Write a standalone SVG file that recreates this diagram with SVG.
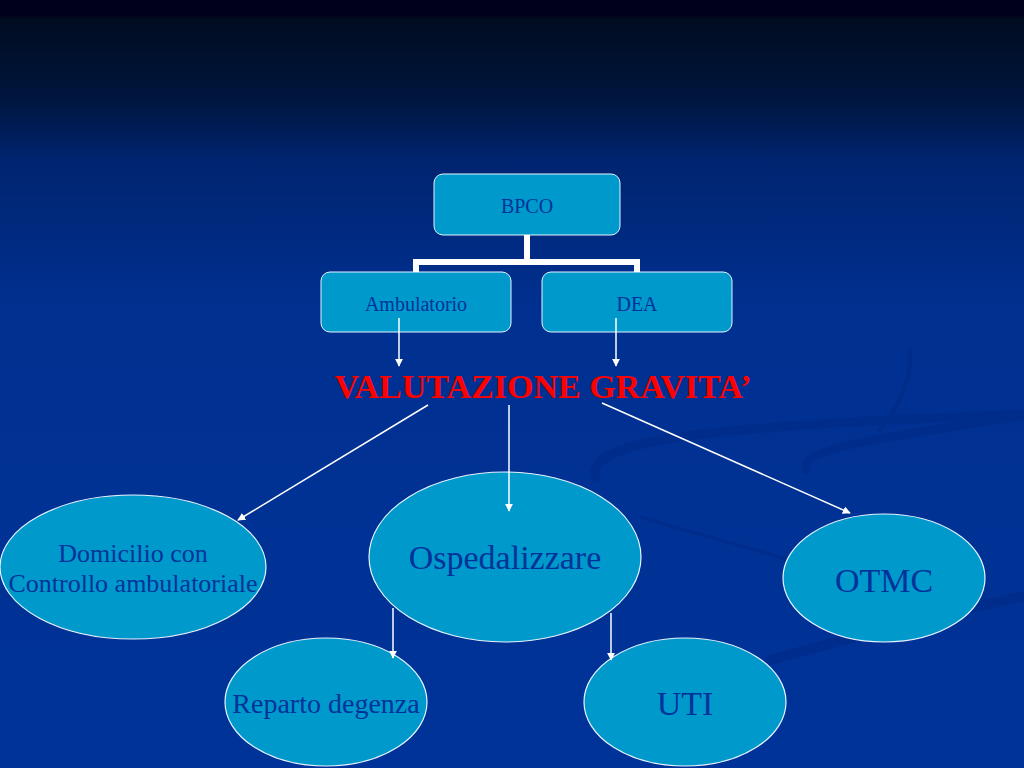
<svg xmlns="http://www.w3.org/2000/svg" width="1024" height="768" viewBox="0 0 1024 768">
<defs>
<linearGradient id="bg" x1="0" y1="0" x2="0" y2="1">
<stop offset="0" stop-color="#00001a"/>
<stop offset="0.02" stop-color="#00001a"/>
<stop offset="0.025" stop-color="#000c20"/>
<stop offset="0.13" stop-color="#00163f"/>
<stop offset="0.21" stop-color="#002470"/>
<stop offset="0.4" stop-color="#003090"/>
<stop offset="1" stop-color="#003399"/>
</linearGradient>
<marker id="ah" viewBox="0 0 10 10" refX="9" refY="5" markerWidth="8" markerHeight="8" markerUnits="userSpaceOnUse" orient="auto">
<path d="M0,0 L10,5 L0,10 z" fill="#ffffff"/>
</marker>
<style>
.box{fill:#0099cc;stroke:#e6f4ff;stroke-width:1}
.ell{fill:#0099cc;stroke:#e6f4ff;stroke-width:1.2}
.t{font-family:"Liberation Serif","Times New Roman",serif;fill:#003399;text-anchor:middle}
.arr{stroke:#ffffff;stroke-width:1.5;fill:none;marker-end:url(#ah)}
.sw{fill:none;stroke:#002a85;stroke-linecap:round}
</style>
</defs>
<rect x="0" y="0" width="1024" height="768" fill="url(#bg)"/>
<g id="swoosh" opacity="0.55">
<path class="sw" stroke-width="9" d="M596,478 C585,455 640,440 720,432 C820,422 930,418 1024,414"/>
<path class="sw" stroke-width="8" d="M806,470 C800,450 860,440 1024,416"/>
<path class="sw" stroke-width="10" d="M770,660 C860,635 950,612 1024,596"/>
<path class="sw" stroke-width="3" d="M640,517 C700,535 760,550 787,560"/>
<path class="sw" stroke-width="4" d="M880,430 C905,400 912,370 910,350"/>
</g>
<g id="bpco">
<rect class="box" x="434" y="174" width="186" height="61" rx="9"/>
<text class="t" x="527" y="213" font-size="20">BPCO</text>
</g>
<g id="ambulatorio">
<rect class="box" x="321" y="272" width="190" height="60" rx="9"/>
<text class="t" x="416" y="311" font-size="20">Ambulatorio</text>
</g>
<g id="dea">
<rect class="box" x="542" y="272" width="190" height="60" rx="9"/>
<text class="t" x="637" y="311" font-size="20">DEA</text>
</g>
<g id="valutazione">
<text x="543" y="398" font-family="'Liberation Serif','Times New Roman',serif" font-size="34" font-weight="bold" fill="#ff0000" text-anchor="middle">VALUTAZIONE GRAVITA’</text>
</g>
<g id="domicilio">
<ellipse class="ell" cx="133" cy="567" rx="133" ry="72"/>
<text class="t" x="133" y="562" font-size="26">Domicilio con</text>
<text class="t" x="133" y="592" font-size="26">Controllo ambulatoriale</text>
</g>
<g id="ospedalizzare">
<ellipse class="ell" cx="505" cy="557" rx="136" ry="85"/>
<text class="t" x="505" y="569" font-size="34">Ospedalizzare</text>
</g>
<g id="otmc">
<ellipse class="ell" cx="884" cy="578" rx="101" ry="64"/>
<text class="t" x="884" y="592" font-size="34">OTMC</text>
</g>
<g id="reparto">
<ellipse class="ell" cx="326" cy="702" rx="101" ry="64"/>
<text class="t" x="326" y="713" font-size="28">Reparto degenza</text>
</g>
<g id="uti">
<ellipse class="ell" cx="685" cy="702" rx="101" ry="64"/>
<text class="t" x="685" y="715" font-size="34">UTI</text>
</g>
<g id="connectors">
<path d="M527,235 V262 M416,272 V262 H637 V272" stroke="#ffffff" stroke-width="6" fill="none"/>
<line class="arr" x1="399" y1="318" x2="399" y2="366"/>
<line class="arr" x1="616" y1="318" x2="616" y2="366"/>
<line class="arr" x1="428" y1="405" x2="238" y2="520"/>
<line class="arr" x1="509" y1="405" x2="509" y2="511"/>
<line class="arr" x1="602" y1="403" x2="850" y2="513"/>
<line class="arr" x1="393" y1="608" x2="393" y2="658"/>
<line class="arr" x1="611" y1="613" x2="611" y2="660"/>
</g>
</svg>
